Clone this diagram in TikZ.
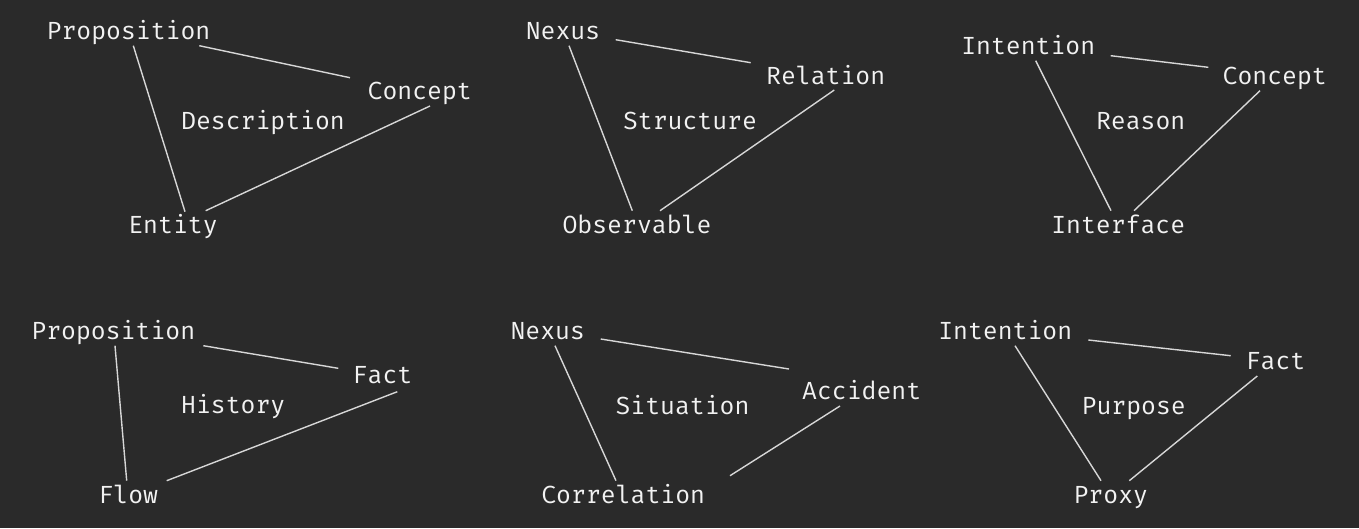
\documentclass[tikz,border=0pt]{standalone}
\usepackage{fontspec}
\newfontfamily\labfont{Fira Mono}
\usetikzlibrary{calc}
\definecolor{bg}{RGB}{42,42,42}
\definecolor{txt}{RGB}{242,242,242}
\definecolor{ln}{RGB}{215,215,215}
\tikzset{
  lab/.style={anchor=base, inner sep=0pt, outer sep=0pt, text=txt, font=\labfont\fontsize{24.8}{29}\selectfont},
  edge/.style={draw=ln, line width=1.4pt}
}
\begin{document}
\begin{tikzpicture}[x=1pt,y=-1pt]
\fill[bg] (0,0) rectangle (1359,528);
\useasboundingbox (0,0) rectangle (1359,528);
% Panel 1
\node[lab] (P1) at (128.5,39) {Proposition};
\node[lab] (C1) at (419.7,99) {Concept};
\node[lab] (D1) at (263,129) {Description};
\node[lab] (E1) at (173,233) {Entity};
\draw[edge] ($(P1.base)+(4.8,6.7)$) -- ($(E1.base)+(12,-21.3)$);
\draw[edge] ($(P1.base)+(70.8,6.7)$) -- ($(C1.base)+(-69.7,-21.3)$);
\draw[edge] ($(C1.base)+(10.3,7)$) -- ($(E1.base)+(32.7,-22.3)$);
% Panel 2
\node[lab] (N2) at (563,39) {Nexus};
\node[lab] (R2) at (825.7,84) {Relation};
\node[lab] (S2) at (690,129) {Structure};
\node[lab] (O2) at (637,233) {Observable};
\draw[edge] ($(N2.base)+(6,6.7)$) -- ($(O2.base)+(-4.7,-22.3)$);
\draw[edge] ($(N2.base)+(52.7,0.7)$) -- ($(R2.base)+(-75,-21.3)$);
\draw[edge] ($(R2.base)+(8.6,6)$) -- ($(O2.base)+(23,-22.3)$);
% Panel 3
\node[lab] (I3) at (1028.2,54) {Intention};
\node[lab] (C3) at (1274.7,84) {Concept};
\node[lab] (R3) at (1140.7,129) {Reason};
\node[lab] (F3) at (1118.2,233) {Interface};
\draw[edge] ($(I3.base)+(7.5,6.7)$) -- ($(F3.base)+(-7.2,-22.3)$);
\draw[edge] ($(I3.base)+(82.5,1.7)$) -- ($(C3.base)+(-66.4,-16.7)$);
\draw[edge] ($(C3.base)+(-14.7,6.7)$) -- ($(F3.base)+(15.8,-22.3)$);
% Panel 4
\node[lab] (P4) at (113.3,339) {Proposition};
\node[lab] (A4) at (382.5,383.3) {Fact};
\node[lab] (H4) at (233.2,413.3) {History};
\node[lab] (L4) at (128.3,503.3) {Flow};
\draw[edge] ($(P4.base)+(1.7,6.7)$) -- ($(L4.base)+(-1.6,-22.6)$);
\draw[edge] ($(P4.base)+(90,6.7)$) -- ($(A4.base)+(-44.2,-15)$);
\draw[edge] ($(A4.base)+(14.8,8.4)$) -- ($(L4.base)+(38.4,-22.6)$);
% Panel 5
\node[lab] (N5) at (547.8,339) {Nexus};
\node[lab] (A5) at (861.7,399) {Accident};
\node[lab] (S5) at (682.5,414) {Situation};
\node[lab] (C5) at (623.2,503.3) {Correlation};
\draw[edge] ($(N5.base)+(7.2,6.7)$) -- ($(C5.base)+(-7.2,-22.6)$);
\draw[edge] ($(N5.base)+(52.9,0)$) -- ($(A5.base)+(-72.7,-30)$);
\draw[edge] ($(A5.base)+(-21.7,7)$) -- ($(C5.base)+(106.8,-27.6)$);
% Panel 6
\node[lab] (I6) at (1005.2,339) {Intention};
\node[lab] (F6) at (1275.5,369) {Fact};
\node[lab] (P6) at (1133.7,414) {Purpose};
\node[lab] (X6) at (1110.8,503.3) {Proxy};
\draw[edge] ($(I6.base)+(9.8,6.7)$) -- ($(X6.base)+(-9.8,-22.6)$);
\draw[edge] ($(I6.base)+(83.1,1)$) -- ($(F6.base)+(-44.8,-13.3)$);
\draw[edge] ($(F6.base)+(-18.2,7)$) -- ($(X6.base)+(18.5,-22.6)$);
\end{tikzpicture}
\end{document}
